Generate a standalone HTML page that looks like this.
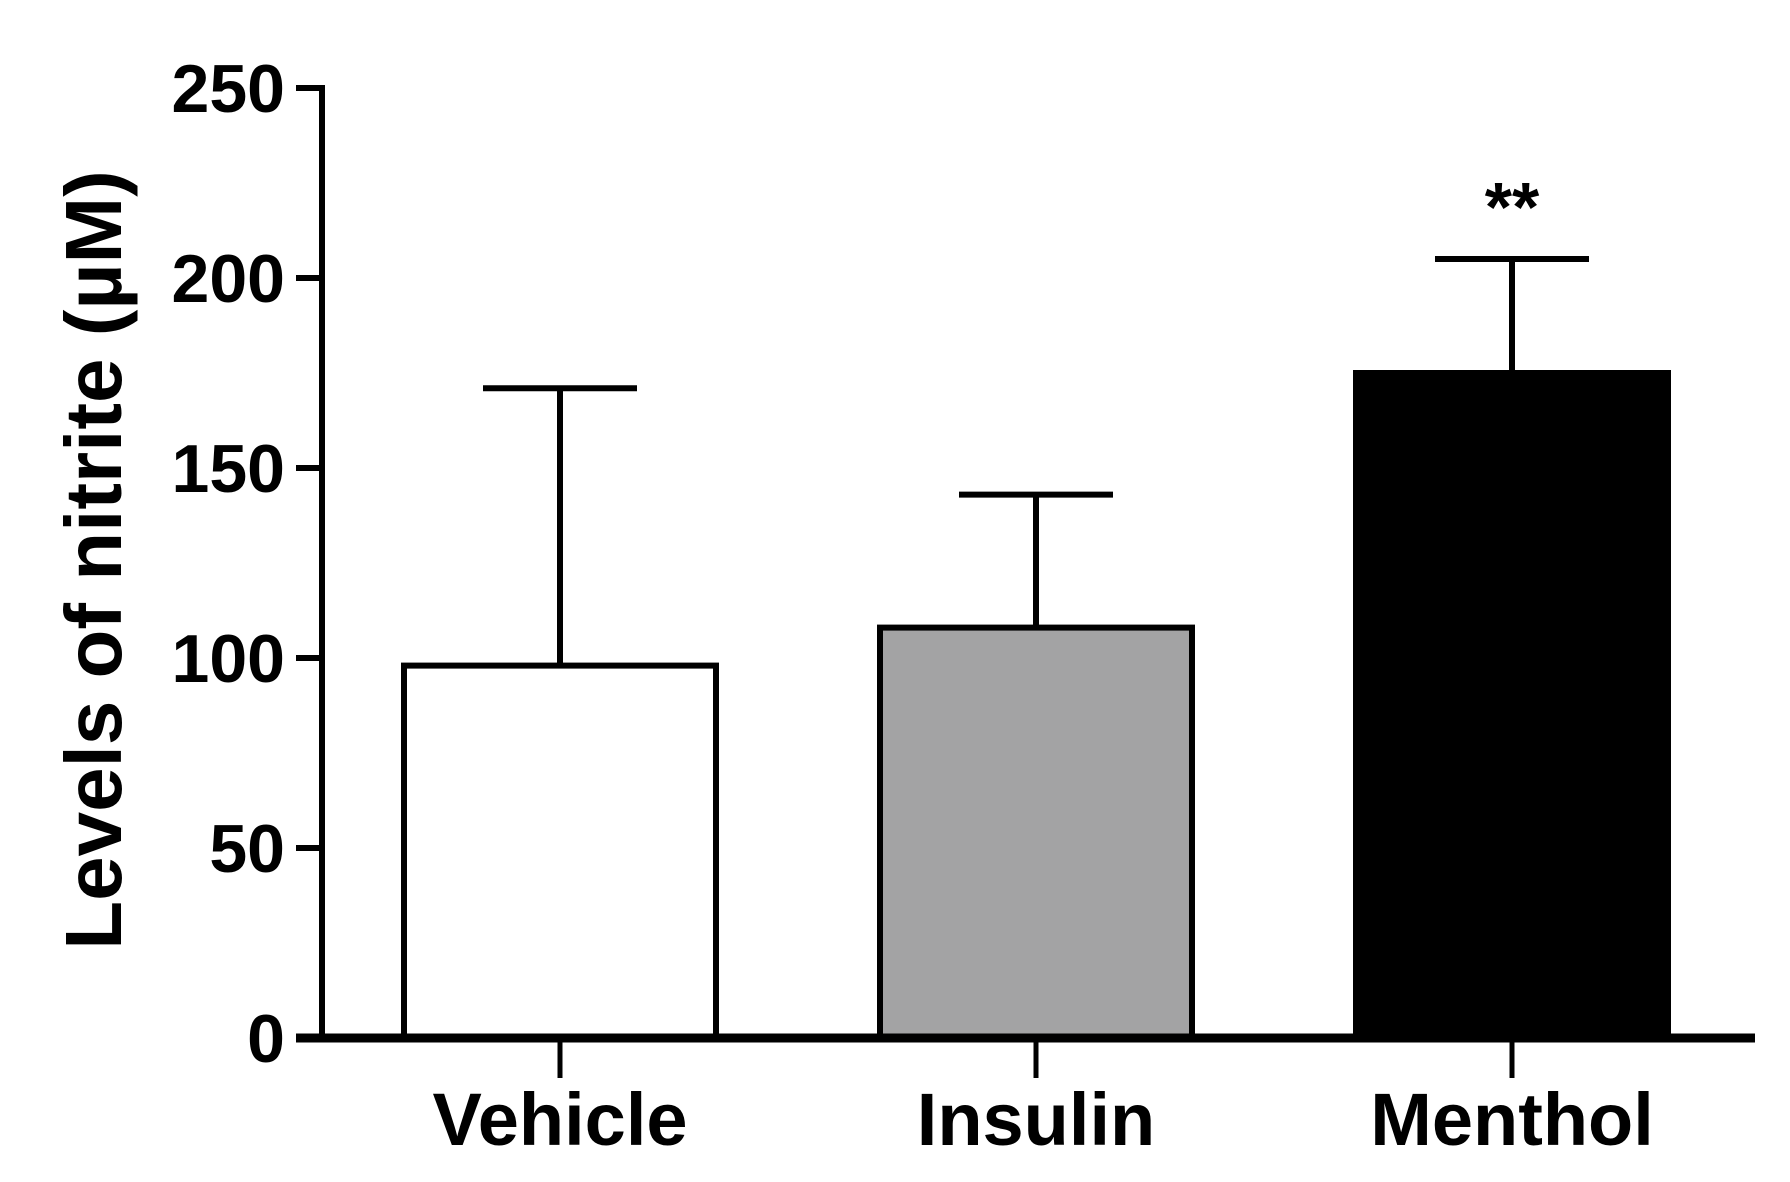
<!DOCTYPE html>
<html><head><meta charset="utf-8"><style>
html,body{margin:0;padding:0;background:#fff;}
svg{display:block;font-family:"Liberation Sans",Arial,sans-serif;font-weight:bold;}
</style></head><body>
<svg id="chart" width="1790" height="1182" viewBox="0 0 1790 1182"></svg>
<script>
const categories = ["Vehicle","Insulin","Menthol"];
const means = [98, 108, 175];
const errors = [73, 35, 30];
const fills = ["#ffffff","#a3a3a4","#000000"];
const yTicks = [0,50,100,150,200,250];
const sigLabels = ["","","**"];

const svg = document.getElementById('chart');
const NS = 'http://www.w3.org/2000/svg';
const y0 = 1038, yTop = 88, yMax = 250;
const yScale = v => y0 - (v / yMax) * (y0 - yTop);
const axisX = 322, xEnd = 1755;
const centers0 = 560, step = 476, barW = 312;
const xScale = i => centers0 + i * step;

function mk(tag, attrs) {
  const e = document.createElementNS(NS, tag);
  for (const k in attrs) e.setAttribute(k, attrs[k]);
  svg.appendChild(e);
  return e;
}

categories.forEach((c, i) => {
  const cx = xScale(i);
  const top = yScale(means[i]);
  const et = yScale(means[i] + errors[i]);
  const eb = mk('line', {x1: cx, x2: cx, y1: et, y2: top, stroke: '#000', 'stroke-width': 6});
  
  
  const cap = mk('line', {x1: cx - 77, x2: cx + 77, y1: et, y2: et, stroke: '#000', 'stroke-width': 6});
  
  
  const r = mk('rect', {x: cx - barW / 2, y: top, width: barW, height: y0 - top, fill: fills[i], stroke: '#000', 'stroke-width': 6});
  
  
  const t = mk('line', {x1: cx, x2: cx, y1: y0, y2: y0 + 40, stroke: '#000', 'stroke-width': 5});
  
  
  const lb = mk('text', {x: cx, y: 1145, 'text-anchor': 'middle', 'font-size': 74});
  lb.textContent = c;
  
  
  if (sigLabels[i]) {
    const s = mk('text', {x: cx, y: et - 28, 'text-anchor': 'middle', 'font-size': 70});
    s.textContent = sigLabels[i];
    
    
  }
});

const ya = mk('line', {x1: axisX, x2: axisX, y1: yTop - 3, y2: y0, stroke: '#000', 'stroke-width': 6});


yTicks.forEach(v => {
  const y = yScale(v);
  const t = mk('line', {x1: 296, x2: axisX, y1: y, y2: y, stroke: '#000', 'stroke-width': 6});
  
  
  const l = mk('text', {x: 285, y: y + 24, 'text-anchor': 'end', 'font-size': 68});
  l.textContent = v;
  
  
});
const xa = mk('line', {x1: 296, x2: xEnd, y1: y0, y2: y0, stroke: '#000', 'stroke-width': 9});



const yt = mk('text', {x: 0, y: 0, 'text-anchor': 'middle', 'font-size': 80, transform: 'translate(121,560) rotate(-90)'});
yt.textContent = 'Levels of nitrite (\u00b5M)';


</script>
</body></html>
